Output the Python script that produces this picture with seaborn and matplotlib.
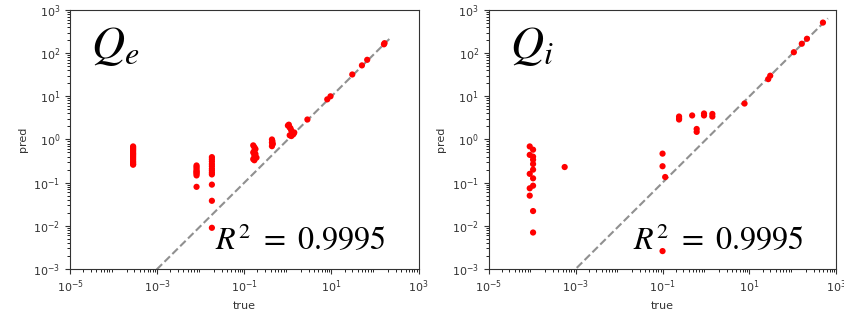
import numpy as np
import pandas as pd
import matplotlib
matplotlib.use("Agg")
import matplotlib.pyplot as plt
import seaborn as sns

# Q_e panel: true vs predicted
qe_true = [2.8e-4] * 15 + [8e-3] * 9 + [0.018] * 12 + \
          [0.16, 0.17, 0.18, 0.17, 0.16, 0.18, 0.17, 0.19, 0.16, 0.17] + \
          [0.43, 0.44, 0.43, 0.45, 0.44, 0.43] + \
          [1.0, 1.05, 1.1, 1.15, 1.2, 1.25, 1.3, 1.2, 1.4, 1.1, 1.35] + \
          [2.8, 8.0, 9.5, 30.0, 50.0, 66.0, 165.0, 160.0]
qe_pred = [0.69, 0.65, 0.61, 0.57, 0.53, 0.49, 0.46, 0.43, 0.40, 0.37, 0.34, 0.31, 0.29, 0.27, 0.26] + \
          [0.25, 0.23, 0.21, 0.19, 0.18, 0.17, 0.16, 0.147, 0.08] + \
          [0.39, 0.35, 0.31, 0.27, 0.24, 0.21, 0.19, 0.17, 0.155, 0.09, 0.038, 0.009] + \
          [0.73, 0.66, 0.60, 0.55, 0.50, 0.46, 0.42, 0.38, 0.35, 0.33] + \
          [1.0, 0.92, 0.85, 0.80, 0.76, 0.70] + \
          [2.1, 2.2, 1.9, 1.8, 1.6, 1.4, 1.3, 1.2, 1.45, 1.25, 1.35] + \
          [2.9, 8.5, 10.0, 32.0, 52.0, 70.0, 170.0, 160.0]

# Q_i panel
qi_true = [8.8e-5, 1.05e-4, 8.8e-5, 1.05e-4, 1.05e-4, 1.05e-4, 1.05e-4, 8.8e-5,
           1.05e-4, 1.05e-4, 8.8e-5, 8.8e-5, 1.05e-4, 1.05e-4, 5.6e-4,
           0.1, 0.1, 0.115, 0.1,
           0.24, 0.24, 0.24, 0.48, 0.9, 0.9, 1.4, 1.4, 0.61, 0.61,
           7.7, 27.0, 30.0, 105.0, 160.0, 210.0, 490.0]
qi_pred = [0.69, 0.58, 0.44, 0.40, 0.34, 0.27, 0.20, 0.16,
           0.126, 0.085, 0.074, 0.050, 0.022, 0.007, 0.23,
           0.47, 0.24, 0.135, 0.0026,
           3.4, 3.1, 2.9, 3.6, 4.0, 3.6, 3.9, 3.4, 1.75, 1.5,
           6.8, 25.0, 30.0, 105.0, 165.0, 215.0, 510.0]

panels = [("$Q_e$", qe_true, qe_pred), ("$Q_i$", qi_true, qi_pred)]
r2_text = r"$R^2\ =\ 0.9995$"

plt.rcParams["mathtext.fontset"] = "stix"

fig = plt.figure(figsize=(8.44, 3.21), dpi=100)
boxes = [[0.083, 0.162, 0.413, 0.807], [0.579, 0.162, 0.412, 0.807]]

for box, (name, t, p) in zip(boxes, panels):
    ax = fig.add_axes(box)
    df = pd.DataFrame({"true": t, "pred": p})
    lo = min(df["true"].min(), df["pred"].min())
    hi = max(df["true"].max(), df["pred"].max()) * 1.25
    ax.plot([lo, hi], [lo, hi], ls="--", color="#909090", lw=1.5, zorder=1)
    sns.scatterplot(data=df, x="true", y="pred", ax=ax, color="red",
                    s=20, edgecolor="none", zorder=2)
    ax.set_xscale("log")
    ax.set_yscale("log")
    ax.set_xlim(1e-5, 1e3)
    ax.set_ylim(1e-3, 1e3)
    ax.set_xticks([1e-5, 1e-3, 1e-1, 1e1, 1e3])
    ax.set_yticks([1e-3, 1e-2, 1e-1, 1e0, 1e1, 1e2, 1e3])
    ax.tick_params(labelsize=8, colors="#333333")
    ax.set_xlabel("true", fontsize=8, color="#333333")
    ax.set_ylabel("pred", fontsize=8, color="#333333")
    for s in ax.spines.values():
        s.set_color("#333333")
    ax.text(0.06, 0.815, name, transform=ax.transAxes, fontsize=33,
            va="baseline", ha="left")
    ax.text(0.415, 0.073, r2_text, transform=ax.transAxes, fontsize=23,
            va="baseline", ha="left")

fig.savefig("out.png", dpi=100)
